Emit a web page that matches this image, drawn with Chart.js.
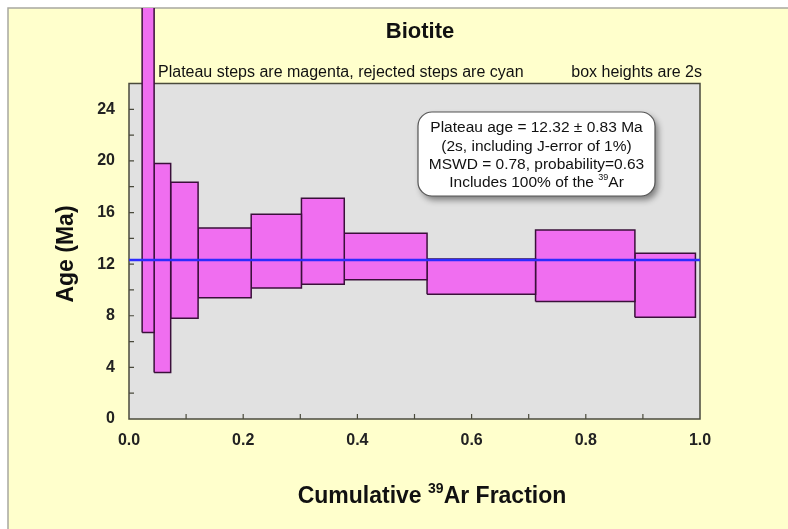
<!DOCTYPE html>
<html>
<head>
<meta charset="utf-8">
<script src="https://cdn.jsdelivr.net/npm/chart.js@4.4.1/dist/chart.umd.min.js"></script>
<style>
  html, body { margin: 0; padding: 0; background: #fff; }
  canvas { display: block; }
</style>
</head>
<body>
<canvas id="plateauChart" width="788" height="529"></canvas>
<script>
// step boundaries on the cumulative 39Ar axis (n steps -> n+1 edges)
const cumFraction = [0.023, 0.044, 0.073, 0.121, 0.214, 0.302, 0.377, 0.522, 0.712, 0.886, 0.992];
// 2s box bottoms / tops in Ma
const ageLow = [6.7, 3.6, 7.8, 9.4, 10.15, 10.45, 10.8, 9.67, 9.1, 7.88];
const ageHigh = [32.0, 19.8, 18.35, 14.8, 15.87, 17.1, 14.4, 12.4, 14.65, 12.84];
const plateauAge = 12.32;

const xTickLabels = ['0.0', '0.2', '0.4', '0.6', '0.8', '1.0'];
const yTickLabels = ['0', '4', '8', '12', '16', '20', '24'];
const yFrameMax = 26;      // top of the grey plot box
const yScaleMax = 31.85;   // room above the box for the off-scale first step

const annotationLines = [
    'Plateau age = 12.32 \u00b1 0.83 Ma',
    '(2s, including J-error of 1%)',
    'MSWD = 0.78, probability=0.63'
];

const FONT = "'Liberation Sans', Arial, sans-serif";
const stepFill = '#f06ef0';
const stepEdge = '#3a103a';
const lineBlue = '#2c2cff';

const boxes = ageLow.map((lo, i) => {
    const x0 = cumFraction[i];
    const x1 = cumFraction[i + 1];
    const hi = ageHigh[i];
    return {
        type: 'line',
        label: 'step ' + (i + 1),
        data: [
            { x: x0, y: lo }, { x: x0, y: hi }, { x: x1, y: hi },
            { x: x1, y: lo }, { x: x0, y: lo }
        ],
        fill: 'shape',
        backgroundColor: stepFill,
        borderColor: stepEdge,
        borderWidth: 1.5,
        pointRadius: 0,
        tension: 0,
        order: 1
    };
});

const plateauLine = {
    type: 'line',
    label: 'plateau',
    data: [{ x: 0, y: plateauAge }, { x: 1, y: plateauAge }],
    borderColor: lineBlue,
    borderWidth: 2.5,
    pointRadius: 0,
    fill: false,
    order: 0
};

// text with a small raised part, centred on x
function drawRich(ctx, parts, x, y, size, weight) {
    let total = 0;
    parts.forEach(p => {
        ctx.font = weight + ' ' + (p.sup ? Math.round(size * 0.6) : size) + 'px ' + FONT;
        p.w = ctx.measureText(p.t).width;
        total += p.w;
    });
    let cx = x - total / 2;
    ctx.textAlign = 'left';
    ctx.textBaseline = 'middle';
    parts.forEach(p => {
        ctx.font = weight + ' ' + (p.sup ? Math.round(size * 0.6) : size) + 'px ' + FONT;
        ctx.fillText(p.t, cx, p.sup ? y - size * 0.35 : y);
        cx += p.w;
    });
}

function roundRect(ctx, x, y, w, h, r) {
    ctx.beginPath();
    ctx.moveTo(x + r, y);
    ctx.arcTo(x + w, y, x + w, y + h, r);
    ctx.arcTo(x + w, y + h, x, y + h, r);
    ctx.arcTo(x, y + h, x, y, r);
    ctx.arcTo(x, y, x + w, y, r);
    ctx.closePath();
}

const framePlugin = {
    id: 'frame',
    beforeDraw(chart) {
        const ctx = chart.ctx;
        const xs = chart.scales.x;
        const ys = chart.scales.y;
        const left = xs.getPixelForValue(0);
        const right = xs.getPixelForValue(1);
        const top = ys.getPixelForValue(yFrameMax);
        const bottom = ys.getPixelForValue(0);
        ctx.save();
        ctx.fillStyle = '#ffffff';
        ctx.fillRect(0, 0, chart.width, chart.height);
        ctx.fillStyle = '#ffffcc';
        ctx.fillRect(8, 8, chart.width - 8, chart.height - 8);
        ctx.strokeStyle = '#a8a8a0';
        ctx.lineWidth = 1.5;
        ctx.beginPath();
        ctx.moveTo(8, chart.height);
        ctx.lineTo(8, 8);
        ctx.lineTo(chart.width, 8);
        ctx.stroke();
        ctx.fillStyle = '#e1e1e1';
        ctx.fillRect(left, top, right - left, bottom - top);
        ctx.restore();
    },
    beforeDatasetsDraw(chart) {
        const ctx = chart.ctx;
        const xs = chart.scales.x;
        const ys = chart.scales.y;
        const left = xs.getPixelForValue(0);
        const right = xs.getPixelForValue(1);
        const top = ys.getPixelForValue(yFrameMax);
        const bottom = ys.getPixelForValue(0);
        ctx.save();
        ctx.strokeStyle = '#4a4a3c';
        ctx.lineWidth = 1.5;
        ctx.strokeRect(left, top, right - left, bottom - top);
        ctx.lineWidth = 1.2;
        ctx.beginPath();
        ys.ticks.forEach(t => {
            if (t.value <= 0 || t.value >= yFrameMax) return;
            const py = ys.getPixelForValue(t.value);
            ctx.moveTo(left, py);
            ctx.lineTo(left + 5, py);
        });
        xs.ticks.forEach(t => {
            if (t.value <= 0 || t.value >= 1) return;
            const px = xs.getPixelForValue(t.value);
            ctx.moveTo(px, bottom);
            ctx.lineTo(px, bottom - 5);
        });
        ctx.stroke();
        ctx.restore();
    },
    afterDraw(chart) {
        const ctx = chart.ctx;
        ctx.save();
        ctx.fillStyle = '#111';
        ctx.textBaseline = 'middle';

        ctx.font = 'bold 22px ' + FONT;
        ctx.textAlign = 'center';
        ctx.fillText('Biotite', 420, 32);

        ctx.font = '16px ' + FONT;
        ctx.textAlign = 'left';
        ctx.fillText('Plateau steps are magenta, rejected steps are cyan', 158, 73);
        ctx.textAlign = 'right';
        ctx.fillText('box heights are 2s', 702, 73);

        ctx.save();
        ctx.translate(67, 254);
        ctx.rotate(-Math.PI / 2);
        ctx.font = 'bold 23px ' + FONT;
        ctx.textAlign = 'center';
        ctx.fillText('Age (Ma)', 0, 0);
        ctx.restore();

        drawRich(ctx, [{ t: 'Cumulative ' }, { t: '39', sup: true }, { t: 'Ar Fraction' }], 432, 497, 23, 'bold');

        // plateau summary box
        ctx.save();
        ctx.shadowColor = 'rgba(0,0,0,0.45)';
        ctx.shadowBlur = 6;
        ctx.shadowOffsetX = 3;
        ctx.shadowOffsetY = 4;
        roundRect(ctx, 418, 112, 237, 84, 14);
        ctx.fillStyle = '#ffffff';
        ctx.fill();
        ctx.restore();
        roundRect(ctx, 418, 112, 237, 84, 14);
        ctx.strokeStyle = '#555';
        ctx.lineWidth = 1.2;
        ctx.stroke();

        ctx.fillStyle = '#111';
        ctx.font = '15.5px ' + FONT;
        ctx.textAlign = 'center';
        annotationLines.forEach((s, i) => ctx.fillText(s, 536.5, 128 + i * 18.3));
        drawRich(ctx, [{ t: 'Includes 100% of the ' }, { t: '39', sup: true }, { t: 'Ar' }], 536.5, 128 + 3 * 18.3, 15.5, '');
        ctx.restore();
    }
};

const ctx = document.getElementById('plateauChart').getContext('2d');

new Chart(ctx, {
    type: 'line',
    data: { datasets: [plateauLine].concat(boxes) },
    options: {
        responsive: false,
        animation: false,
        events: [],
        layout: { padding: { left: 0, right: 88, top: 8, bottom: 0 } },
        plugins: {
            legend: { display: false },
            tooltip: { enabled: false }
        },
        scales: {
            x: {
                type: 'linear',
                min: 0,
                max: 1,
                grid: { display: false, drawTicks: false },
                border: { display: false },
                ticks: {
                    stepSize: 0.1,
                    padding: 12,
                    maxRotation: 0,
                    autoSkip: false,
                    color: '#222',
                    font: { family: FONT, size: 16, weight: 'bold' },
                    callback: function (value) {
                        const s = value.toFixed(1);
                        return xTickLabels.includes(s) ? s : '';
                    }
                },
                afterFit: function (scale) {
                    scale.height = 110;
                    scale.paddingLeft = 0;
                    scale.paddingRight = 0;
                }
            },
            y: {
                type: 'linear',
                min: 0,
                max: yScaleMax,
                grid: { display: false, drawTicks: false },
                border: { display: false },
                afterBuildTicks: function (scale) {
                    scale.ticks = scale.ticks.filter(t => t.value <= yFrameMax);
                },
                ticks: {
                    stepSize: 2,
                    padding: 14,
                    autoSkip: false,
                    color: '#222',
                    font: { family: FONT, size: 16, weight: 'bold' },
                    callback: function (value) {
                        const s = String(Math.round(value));
                        return yTickLabels.includes(s) && Math.abs(value - Math.round(value)) < 1e-6 ? s : '';
                    }
                },
                afterFit: function (scale) {
                    scale.width = 129;
                    scale.paddingTop = 0;
                    scale.paddingBottom = 0;
                }
            }
        }
    },
    plugins: [framePlugin]
});
</script>
</body>
</html>
